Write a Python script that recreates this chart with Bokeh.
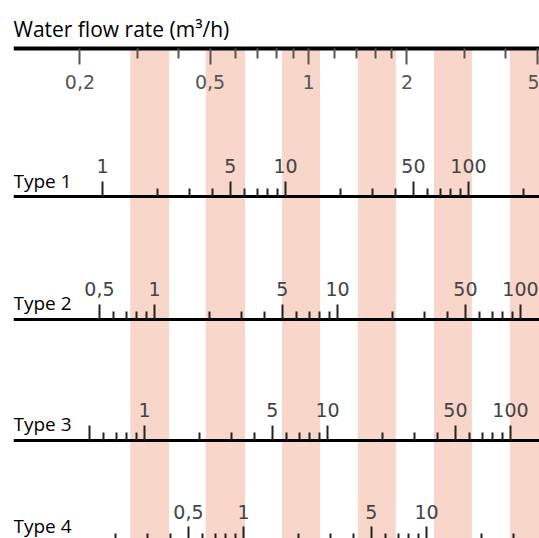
from bokeh.plotting import figure
from bokeh.models import Range1d, LogScale, LogAxis, FixedTicker, Label
from bokeh.embed import file_html
from bokeh.resources import INLINE

# ---------------- data ----------------
TITLE = "Water flow rate (m³/h)"

FLOW_MAJOR = [0.2, 0.5, 1, 2, 5]
FLOW_LABELS = ["0,2", "0,5", "1", "2", "5"]
FLOW_MINOR = [0.3, 0.4, 0.6, 0.7, 0.8, 0.9, 1.2, 1.4, 1.6, 1.8, 3, 4]

BAND_LO = [0.285, 0.485, 0.83, 1.415, 2.42, 4.13]
BAND_HI = [0.375, 0.64, 1.085, 1.85, 3.16, 5.4]

TYPE_NAMES = ["Type 1", "Type 2", "Type 3", "Type 4"]

T1_MAJOR = [1, 5, 10, 50, 100]
T1_LABELS = ["1", "5", "10", "50", "100"]
T1_MINOR = [2, 3, 4, 6, 7, 8, 9, 20, 30, 40, 60, 70, 80, 90, 200]

T2_MAJOR = [0.5, 1, 5, 10, 50, 100]
T2_LABELS = ["0,5", "1", "5", "10", "50", "100"]
T2_MINOR = [0.6, 0.7, 0.8, 0.9, 2, 3, 4, 6, 7, 8, 9, 20, 30, 40, 60, 70, 80, 90]

T3_MAJOR = [0.5, 1, 5, 10, 50, 100]
T3_LABELS = ["", "1", "5", "10", "50", "100"]
T3_MINOR = [0.6, 0.7, 0.8, 0.9, 2, 3, 4, 6, 7, 8, 9, 20, 30, 40, 60, 70, 80, 90]

T4_MAJOR = [0.5, 1, 5, 10]
T4_LABELS = ["0,5", "1", "5", "10"]
T4_MINOR = [0.2, 0.3, 0.4, 0.6, 0.7, 0.8, 0.9, 2, 3, 4, 6, 7, 8, 9, 20, 30]

# ---------------- layout ----------------
W, H = 539, 538
PAD_LEFT = 13
FRAME_W = W - PAD_LEFT

FLOW_X1 = 295.0      # frame px where flow = 1
FLOW_PPD = 327.0     # px per decade
TYPE_X1 = [89.0, 141.0, 131.0, 230.0]
TYPE_PPD = 183.0

Y_FLOW = 47.5
Y_TYPES = [195.5, 318.5, 439.5, 541.0]
Y_TYPE_TEXT = [180.0, 302.0, 423.0, 525.0]
Y_TITLE = 28.0


def log_range(x1, ppd):
    return Range1d(10 ** (-x1 / ppd), 10 ** ((FRAME_W - x1) / ppd))


flow_rng = log_range(FLOW_X1, FLOW_PPD)

p = figure(width=W, height=H, output_backend="svg", toolbar_location=None,
           x_axis_type="log", x_axis_location=None, y_axis_location=None,
           x_range=flow_rng, y_range=Range1d(H, 0),
           min_border_left=PAD_LEFT, min_border_right=0,
           min_border_top=0, min_border_bottom=0)
p.outline_line_color = None
p.background_fill_color = "white"
p.border_fill_color = "white"
p.grid.visible = False

# shaded bands
p.quad(left=BAND_LO, right=BAND_HI, top=Y_FLOW, bottom=H + 40,
       fill_color="#f9d6ca", line_color=None)

# flow-rate axis
flow_ax = LogAxis(fixed_location=Y_FLOW,
                  ticker=FixedTicker(ticks=FLOW_MAJOR, minor_ticks=FLOW_MINOR),
                  major_label_overrides=dict(zip(FLOW_MAJOR, FLOW_LABELS)))
flow_ax.axis_line_width = 4
flow_ax.axis_line_color = "black"
flow_ax.major_tick_in = 0
flow_ax.major_tick_out = 16
flow_ax.minor_tick_in = 0
flow_ax.minor_tick_out = 10
flow_ax.major_tick_line_color = "#555555"
flow_ax.minor_tick_line_color = "#555555"
flow_ax.major_tick_line_width = 2
flow_ax.minor_tick_line_width = 2
flow_ax.major_label_text_font = "DejaVu Sans"
flow_ax.major_label_text_font_size = "19px"
flow_ax.major_label_text_color = "#555555"
flow_ax.major_label_standoff = 11
p.add_layout(flow_ax, "below")

p.add_layout(Label(x=flow_rng.start, y=Y_TITLE, text=TITLE,
                   text_font="Open Sans", text_font_size="21px",
                   text_color="black", text_baseline="alphabetic"))

types = [(T1_MAJOR, T1_LABELS, T1_MINOR), (T2_MAJOR, T2_LABELS, T2_MINOR),
         (T3_MAJOR, T3_LABELS, T3_MINOR), (T4_MAJOR, T4_LABELS, T4_MINOR)]

for i, ((major, labels, minor), name) in enumerate(zip(types, TYPE_NAMES)):
    key = "t%d" % (i + 1)
    p.extra_x_ranges[key] = log_range(TYPE_X1[i], TYPE_PPD)
    p.extra_x_scales[key] = LogScale()
    ax = LogAxis(x_range_name=key, fixed_location=Y_TYPES[i],
                 ticker=FixedTicker(ticks=major, minor_ticks=minor),
                 major_label_overrides=dict(zip(major, labels)))
    ax.axis_line_width = 3
    ax.axis_line_color = "black"
    ax.major_tick_in = 0
    ax.major_tick_out = 15
    ax.minor_tick_in = 0
    ax.minor_tick_out = 8
    ax.major_tick_line_color = "#222222"
    ax.minor_tick_line_color = "#222222"
    ax.major_tick_line_width = 2
    ax.minor_tick_line_width = 2
    ax.major_label_text_font = "DejaVu Sans"
    ax.major_label_text_font_size = "19px"
    ax.major_label_text_color = "#444444"
    ax.major_label_standoff = 8
    p.add_layout(ax, "above")
    p.add_layout(Label(x=flow_rng.start, y=Y_TYPE_TEXT[i], text=name,
                       text_font="Open Sans", text_font_size="19px",
                       text_color="black", text_baseline="alphabetic"))

open("out.html", "w").write(file_html(p, INLINE))
